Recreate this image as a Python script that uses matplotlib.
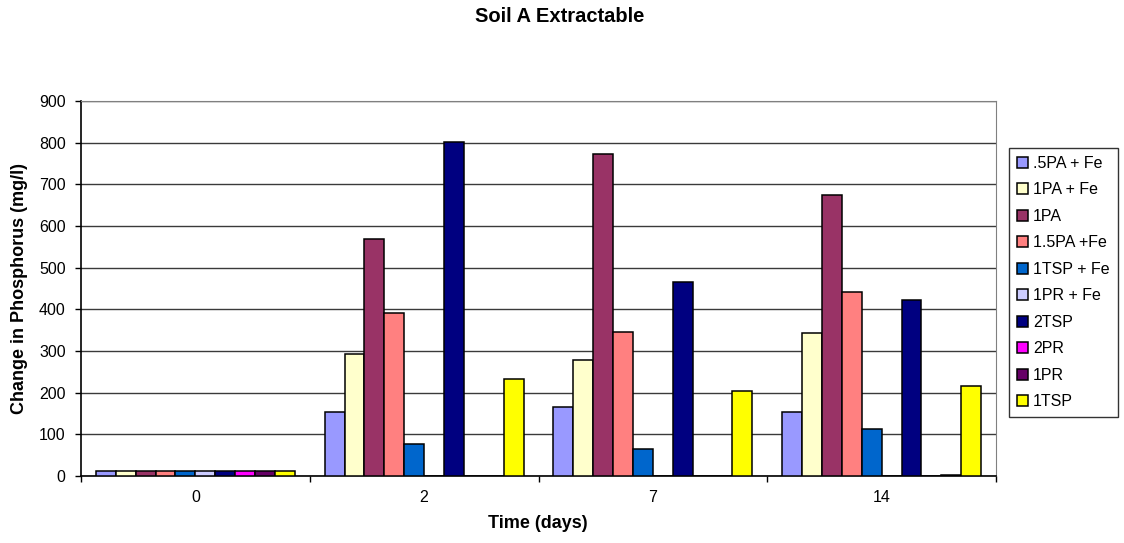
import numpy as np
import matplotlib.pyplot as plt

plt.rcParams['font.family'] = ['Liberation Sans', 'DejaVu Sans']

days = ['0', '2', '7', '14']
series = ['.5PA + Fe', '1PA + Fe', '1PA', '1.5PA +Fe', '1TSP + Fe',
          '1PR + Fe', '2TSP', '2PR', '1PR', '1TSP']
colors = ['#9999FF', '#FFFFCC', '#993366', '#FF8080', '#0066CC',
          '#CCCCFF', '#000080', '#FF00FF', '#660066', '#FFFF00']

pa05_fe = [12, 153, 166, 153]
pa1_fe = [12, 293, 278, 343]
pa1 = [12, 570, 774, 674]
pa15_fe = [12, 392, 346, 441]
tsp1_fe = [12, 78, 66, 114]
pr1_fe = [12, 0, 0, 0]
tsp2 = [12, 801, 466, 423]
pr2 = [12, 0, 0, 0]
pr1 = [12, 0, 0, 2]
tsp1 = [12, 234, 204, 216]

values = [pa05_fe, pa1_fe, pa1, pa15_fe, tsp1_fe, pr1_fe, tsp2, pr2, pr1, tsp1]

W, H = 1124, 543
fig = plt.figure(figsize=(W/100, H/100), dpi=100)
# plot area in pixel terms: x 81..996, y 101..476
ax = fig.add_axes([81/W, 1-476/H, 915/W, 375/H])

x = np.arange(len(days))
n = len(series)
group = 0.87
w = group / n
for i in range(n):
    pos = x - group/2 + w*(i + 0.5)
    ax.bar(pos, values[i], width=w, color=colors[i], edgecolor='black',
           linewidth=1.1, label=series[i], zorder=3)

ax.set_xlim(-0.5, len(days) - 0.5)
ax.set_ylim(0, 900)
ax.set_yticks(np.arange(0, 901, 100))
ax.set_xticks(x)
ax.set_xticklabels(days)
ax.set_xticks(np.arange(-0.5, len(days)), minor=True)
ax.tick_params(axis='x', which='major', length=0, pad=10, labelsize=11.5)
ax.tick_params(axis='x', which='minor', length=4, width=1, direction='out')
ax.tick_params(axis='y', length=4, width=1, direction='out', pad=7, labelsize=11.5)
ax.yaxis.grid(True, color='#3a3a3a', linewidth=1, zorder=0)

for s in ['top', 'right']:
    ax.spines[s].set_color('#808080')
for s in ['left', 'bottom']:
    ax.spines[s].set_linewidth(1.2)

fig.text(20/W, 1-288/H, 'Change in Phosphorus (mg/l)', rotation=90,
         ha='center', va='center', fontsize=13, fontweight='bold')
fig.text(538/W, 1-524/H, 'Time (days)', ha='center', va='center',
         fontsize=13, fontweight='bold')
fig.text(560/W, 1-17/H, 'Soil A Extractable', ha='center', va='center',
         fontsize=14.5, fontweight='bold')

leg = ax.legend(loc='upper left', bbox_to_anchor=(1009/W, 1-148/H),
                bbox_transform=fig.transFigure,
                frameon=True, fancybox=False, edgecolor='black', fontsize=11.5,
                handlelength=0.7, handleheight=0.7, handletextpad=0.3,
                labelspacing=0.72, borderpad=0.5, borderaxespad=0)
leg.get_frame().set_linewidth(1)

plt.savefig('out.png', dpi=100)
